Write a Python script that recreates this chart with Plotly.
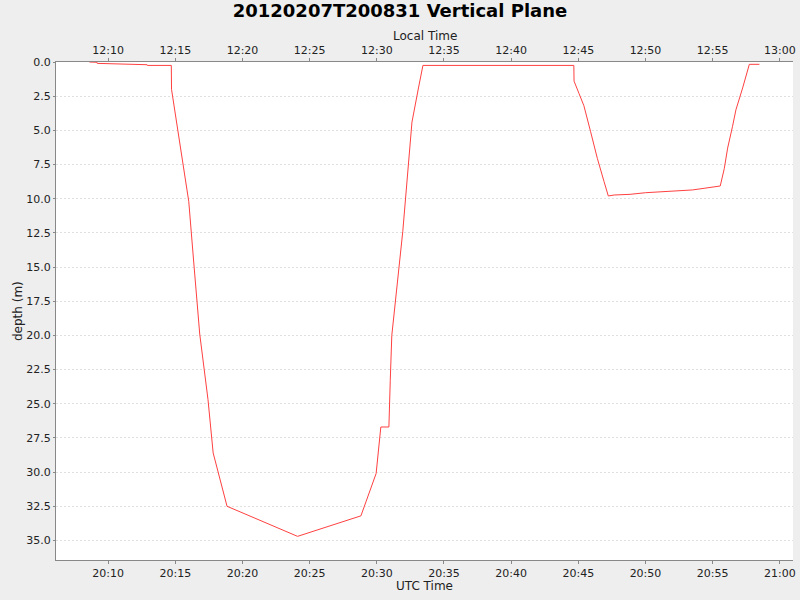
import pandas as pd
import plotly.graph_objects as go

# dive profile (UTC clock time, depth in metres)
utc_times = [
    "20:08:36", "20:09:10", "20:09:11", "20:11:10", "20:12:54", "20:12:55",
    "20:14:42", "20:14:43", "20:15:01", "20:15:19", "20:15:38", "20:16:00",
    "20:16:24", "20:16:49", "20:17:26", "20:17:49", "20:18:51", "20:24:06",
    "20:28:49", "20:29:57", "20:30:18", "20:30:54", "20:31:00", "20:31:07",
    "20:31:56", "20:32:22", "20:32:37", "20:33:06", "20:33:26", "20:44:40",
    "20:44:41", "20:45:03", "20:45:25", "20:45:55", "20:46:25", "20:46:55",
    "20:47:14", "20:47:40", "20:48:51", "20:50:01", "20:51:08", "20:52:20",
    "20:53:30", "20:54:22", "20:55:34", "20:55:52", "20:56:07", "20:56:29",
    "20:56:44", "20:57:14", "20:57:44", "20:58:29",
]
depth = [
    0.0, 0.02, 0.1, 0.15, 0.2, 0.25,
    0.25, 2.0, 3.9, 5.8, 7.9, 10.2,
    15.0, 19.9, 24.7, 28.6, 32.5, 34.7,
    33.2, 30.1, 26.7, 26.7, 23.3, 20.0,
    12.4, 7.5, 4.4, 1.9, 0.25, 0.25,
    1.4, 2.3, 3.2, 5.1, 7.05, 8.75,
    9.8, 9.73, 9.68, 9.56, 9.49, 9.44,
    9.36, 9.24, 9.07, 7.8, 6.3, 4.7,
    3.5, 1.9, 0.17, 0.17,
]

day = "2012-02-07 "
utc = pd.to_datetime([day + t for t in utc_times])
local = utc - pd.Timedelta(hours=8)

x_start = pd.Timestamp(day + "20:06:07")
x_end = pd.Timestamp(day + "21:00:59")
offset = pd.Timedelta(hours=8)

font = "DejaVu Sans"
axis_col = "#888888"
plot_w, plot_h = 737, 498

fig = go.Figure()
fig.add_trace(go.Scatter(x=utc, y=depth, mode="lines",
                         line=dict(color="#ff4040", width=1),
                         showlegend=False))
# invisible copy so the local-time axis gets drawn
fig.add_trace(go.Scatter(x=local, y=depth, mode="lines", xaxis="x2",
                         line=dict(color="rgba(0,0,0,0)", width=1),
                         hoverinfo="skip", showlegend=False))

common = dict(showgrid=False, zeroline=False, automargin=False,
              showline=True, linecolor=axis_col, linewidth=1,
              ticks="outside", ticklen=3, tickcolor=axis_col)

fig.update_layout(
    width=800, height=600,
    paper_bgcolor="#eeeeee", plot_bgcolor="white",
    margin=dict(l=56, r=7, t=62, b=40),
    font=dict(family=font, size=11, color="#222222"),
    title=dict(text="<b>20120207T200831 Vertical Plane</b>",
               x=0.5, xanchor="center", y=0.993, yanchor="top",
               font=dict(family=font, size=18, color="black")),
    xaxis=dict(range=[x_start, x_end], tickformat="%H:%M", dtick=300000,
               tick0=day + "20:00:00", **common),
    xaxis2=dict(range=[x_start - offset, x_end - offset], overlaying="x",
                side="top", tickformat="%H:%M", dtick=300000,
                tick0=day + "12:00:00", **common),
    yaxis=dict(range=[36.43, 0], dtick=2.5, tickformat=".1f",
               zeroline=False, automargin=False,
               showgrid=True, gridcolor="#e0e0e0", griddash="2px,2px",
               showline=True, linecolor=axis_col, linewidth=1,
               ticks="outside", ticklen=2, tickcolor=axis_col),
)

label = dict(font=dict(family=font, size=12, color="#222222"),
             showarrow=False, xref="paper", yref="paper")
fig.add_annotation(text="Local Time", x=0.5, y=1 + 26 / plot_h,
                   xanchor="center", yanchor="middle", **label)
fig.add_annotation(text="UTC Time", x=0.5, y=-26 / plot_h,
                   xanchor="center", yanchor="middle", **label)
fig.add_annotation(text="depth (m)", x=-38 / plot_w, y=0.5, textangle=-90,
                   xanchor="center", yanchor="middle", **label)

# drop the page's default body margin so the 800x600 figure fills the window
fig.write_html("out.html", config={"displayModeBar": False},
               post_script="document.body.style.margin='0';")
